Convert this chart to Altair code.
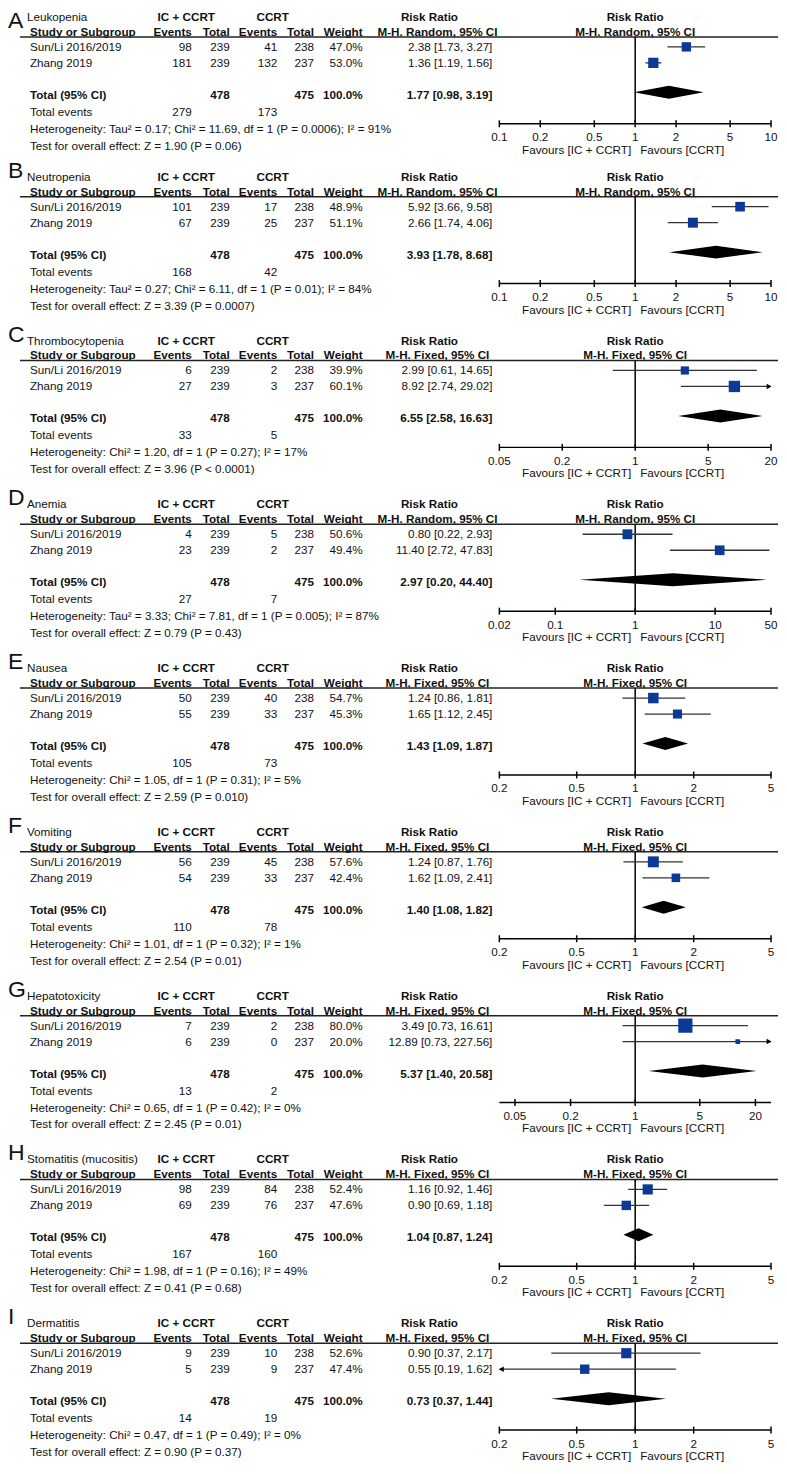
import altair as alt
import pandas as pd

# ---------------- data ----------------
LETTERS = ["A", "B", "C", "D", "E", "F", "G", "H", "I"]
OUTCOMES = ["Leukopenia", "Neutropenia", "Thrombocytopenia", "Anemia", "Nausea",
            "Vomiting", "Hepatotoxicity", "Stomatitis (mucositis)", "Dermatitis"]
METHOD = ["Random", "Random", "Fixed", "Random", "Fixed", "Fixed", "Fixed", "Fixed", "Fixed"]
STUDIES = ["Sun/Li 2016/2019", "Zhang 2019"]
IC_EVENTS = [[98, 181], [101, 67], [6, 27], [4, 23], [50, 55], [56, 54], [7, 6], [98, 69], [9, 5]]
IC_TOTAL = [239, 239]
CC_EVENTS = [[41, 132], [17, 25], [2, 3], [5, 2], [40, 33], [45, 33], [2, 0], [84, 76], [10, 9]]
CC_TOTAL = [238, 237]
WEIGHTS = [[47.0, 53.0], [48.9, 51.1], [39.9, 60.1], [50.6, 49.4], [54.7, 45.3],
           [57.6, 42.4], [80.0, 20.0], [52.4, 47.6], [52.6, 47.4]]
RR = [[2.38, 1.36], [5.92, 2.66], [2.99, 8.92], [0.80, 11.40], [1.24, 1.65],
      [1.24, 1.62], [3.49, 12.89], [1.16, 0.90], [0.90, 0.55]]
RR_LO = [[1.73, 1.19], [3.66, 1.74], [0.61, 2.74], [0.22, 2.72], [0.86, 1.12],
         [0.87, 1.09], [0.73, 0.73], [0.92, 0.69], [0.37, 0.19]]
RR_HI = [[3.27, 1.56], [9.58, 4.06], [14.65, 29.02], [2.93, 47.83], [1.81, 2.45],
         [1.76, 2.41], [16.61, 227.56], [1.46, 1.18], [2.17, 1.62]]
TOT_RR = [1.77, 3.93, 6.55, 2.97, 1.43, 1.40, 5.37, 1.04, 0.73]
TOT_LO = [0.98, 1.78, 2.58, 0.20, 1.09, 1.08, 1.40, 0.87, 0.37]
TOT_HI = [3.19, 8.68, 16.63, 44.40, 1.87, 1.82, 20.58, 1.24, 1.44]
TOT_N_IC = 478
TOT_N_CC = 475
TOT_EV_IC = [279, 168, 33, 27, 105, 110, 13, 167, 14]
TOT_EV_CC = [173, 42, 5, 7, 73, 78, 2, 160, 19]
HETEROGENEITY = [
    "Heterogeneity: Tau² = 0.17; Chi² = 11.69, df = 1 (P = 0.0006); I² = 91%",
    "Heterogeneity: Tau² = 0.27; Chi² = 6.11, df = 1 (P = 0.01); I² = 84%",
    "Heterogeneity: Chi² = 1.20, df = 1 (P = 0.27); I² = 17%",
    "Heterogeneity: Tau² = 3.33; Chi² = 7.81, df = 1 (P = 0.005); I² = 87%",
    "Heterogeneity: Chi² = 1.05, df = 1 (P = 0.31); I² = 5%",
    "Heterogeneity: Chi² = 1.01, df = 1 (P = 0.32); I² = 1%",
    "Heterogeneity: Chi² = 0.65, df = 1 (P = 0.42); I² = 0%",
    "Heterogeneity: Chi² = 1.98, df = 1 (P = 0.16); I² = 49%",
    "Heterogeneity: Chi² = 0.47, df = 1 (P = 0.49); I² = 0%",
]
OVERALL = [
    "Test for overall effect: Z = 1.90 (P = 0.06)",
    "Test for overall effect: Z = 3.39 (P = 0.0007)",
    "Test for overall effect: Z = 3.96 (P < 0.0001)",
    "Test for overall effect: Z = 0.79 (P = 0.43)",
    "Test for overall effect: Z = 2.59 (P = 0.010)",
    "Test for overall effect: Z = 2.54 (P = 0.01)",
    "Test for overall effect: Z = 2.45 (P = 0.01)",
    "Test for overall effect: Z = 0.41 (P = 0.68)",
    "Test for overall effect: Z = 0.90 (P = 0.37)",
]
TICKS = [
    [0.1, 0.2, 0.5, 1, 2, 5, 10],
    [0.1, 0.2, 0.5, 1, 2, 5, 10],
    [0.05, 0.2, 1, 5, 20],
    [0.02, 0.1, 1, 10, 50],
    [0.2, 0.5, 1, 2, 5],
    [0.2, 0.5, 1, 2, 5],
    [0.05, 0.2, 1, 5, 20],
    [0.2, 0.5, 1, 2, 5],
    [0.2, 0.5, 1, 2, 5],
]
TICK_LABELS = [
    ["0.1", "0.2", "0.5", "1", "2", "5", "10"],
    ["0.1", "0.2", "0.5", "1", "2", "5", "10"],
    ["0.05", "0.2", "1", "5", "20"],
    ["0.02", "0.1", "1", "10", "50"],
    ["0.2", "0.5", "1", "2", "5"],
    ["0.2", "0.5", "1", "2", "5"],
    ["0.05", "0.2", "1", "5", "20"],
    ["0.2", "0.5", "1", "2", "5"],
    ["0.2", "0.5", "1", "2", "5"],
]
AXIS_DOMAIN = [[0.1, 10], [0.1, 10], [0.05, 20], [0.02, 50], [0.2, 5],
               [0.2, 5], [0.0339, 29.5], [0.2, 5], [0.2, 5]]
FAVOURS_LEFT = "Favours [IC + CCRT]"
FAVOURS_RIGHT = "Favours [CCRT]"

# ---------------- layout / style ----------------
FONT = "Liberation Sans"
FS = 11.7
INK = "#111111"
BLUE = "#0b3a96"
W = 771
X = dict(title=19, study=22, e1=184, t1=222, e2=269.5, t2=306.5, w=355, rr=485,
         ic_head=178.5, cc_head=265, rr_head=422, mh_head=430, line0=12)
FOREST_RANGE = [492, 764]
# vertical offsets (px) relative to each panel's header rule
Y = dict(letter=-19, head1=-20, head2=-5, s1=10, s2=26, total=58, diamond=55.5,
         events=75, het=92, test=109, axis=87, tick0=83.5, tick1=90.5,
         ticklab=100.5, fav=113)
LETTER_SIZE = 23
DIAMOND_HALF = 6.5
L_FIRST = 28           # header rule of panel A
L_REST = 44            # header rule of panels B..I
PITCH = 163.5
HEIGHTS = [188 - L_REST] + [PITCH] * 7 + [L_REST + 118]


def panel(i):
    L = L_FIRST if i == 0 else L_REST
    H = HEIGHTS[i]
    ys = alt.Scale(domain=[-L, H - L], range=[0, H], zero=False, nice=False)
    xs = alt.Scale(type="log", domain=AXIS_DOMAIN[i], range=FOREST_RANGE, clamp=True, nice=False)
    ycol = lambda f: alt.Y(f, type="quantitative", scale=ys, axis=None)
    yd = lambda v: alt.Y(datum=v, type="quantitative", scale=ys, axis=None)
    layers = []

    def txt(rows, x, align="left", bold=False, size=FS, baseline="middle"):
        df = pd.DataFrame(rows, columns=["text", "yo"])
        return alt.Chart(df).mark_text(
            align=align, baseline=baseline, font=FONT, fontSize=size,
            fontWeight="bold" if bold else "normal", color=INK
        ).encode(x=alt.value(x), y=ycol("yo"), text="text:N")

    # letter + title
    letter_y = Y["letter"] if i > 0 else 19 - L
    layers.append(txt([[LETTERS[i], letter_y]], 0, size=LETTER_SIZE, baseline="alphabetic"))
    layers.append(txt([[OUTCOMES[i], Y["head1"]]], X["title"]))
    # group headers
    layers.append(txt([["IC + CCRT", Y["head1"]]], X["ic_head"], align="center", bold=True))
    layers.append(txt([["CCRT", Y["head1"]]], X["cc_head"], align="center", bold=True))
    layers.append(txt([["Risk Ratio", Y["head1"]]], X["rr_head"], align="center", bold=True))
    mh = f"M-H. {METHOD[i]}, 95% CI"
    layers.append(txt([[mh, Y["head2"]]], X["mh_head"], align="center", bold=True))
    # left column
    layers.append(txt([["Study or Subgroup", Y["head2"]], ["Total (95% CI)", Y["total"]]], X["study"], bold=True))
    layers.append(txt([[STUDIES[0], Y["s1"]], [STUDIES[1], Y["s2"]], ["Total events", Y["events"]],
                       [HETEROGENEITY[i], Y["het"]], [OVERALL[i], Y["test"]]], X["study"]))
    # numeric columns
    layers.append(txt([["Events", Y["head2"]]], X["e1"], align="right", bold=True))
    layers.append(txt([[str(IC_EVENTS[i][0]), Y["s1"]], [str(IC_EVENTS[i][1]), Y["s2"]],
                       [str(TOT_EV_IC[i]), Y["events"]]], X["e1"], align="right"))
    layers.append(txt([["Total", Y["head2"]], [str(TOT_N_IC), Y["total"]]], X["t1"], align="right", bold=True))
    layers.append(txt([[str(IC_TOTAL[0]), Y["s1"]], [str(IC_TOTAL[1]), Y["s2"]]], X["t1"], align="right"))
    layers.append(txt([["Events", Y["head2"]]], X["e2"], align="right", bold=True))
    layers.append(txt([[str(CC_EVENTS[i][0]), Y["s1"]], [str(CC_EVENTS[i][1]), Y["s2"]],
                       [str(TOT_EV_CC[i]), Y["events"]]], X["e2"], align="right"))
    layers.append(txt([["Total", Y["head2"]], [str(TOT_N_CC), Y["total"]]], X["t2"], align="right", bold=True))
    layers.append(txt([[str(CC_TOTAL[0]), Y["s1"]], [str(CC_TOTAL[1]), Y["s2"]]], X["t2"], align="right"))
    layers.append(txt([["Weight", Y["head2"]], ["100.0%", Y["total"]]], X["w"], align="right", bold=True))
    layers.append(txt([[f"{WEIGHTS[i][0]:.1f}%", Y["s1"]], [f"{WEIGHTS[i][1]:.1f}%", Y["s2"]]], X["w"], align="right"))
    layers.append(txt([[f"{RR[i][k]:.2f} [{RR_LO[i][k]:.2f}, {RR_HI[i][k]:.2f}]", Y["s1" if k == 0 else "s2"]]
                       for k in range(2)], X["rr"], align="right"))
    layers.append(txt([[f"{TOT_RR[i]:.2f} [{TOT_LO[i]:.2f}, {TOT_HI[i]:.2f}]", Y["total"]]], X["rr"],
                      align="right", bold=True))

    # header rule
    layers.append(alt.Chart(pd.DataFrame({"a": [0]})).mark_rule(color="#222", strokeWidth=1.5).encode(
        x=alt.value(X["line0"]), x2=alt.value(W), y=yd(0)))

    # ---- forest part ----
    one = pd.DataFrame({"v": [1.0]})
    for label, yo in [("Risk Ratio", Y["head1"]), (mh, Y["head2"])]:
        layers.append(alt.Chart(one).mark_text(font=FONT, fontSize=FS, fontWeight="bold", color=INK,
                                               align="center", baseline="middle").encode(
            x=alt.X("v:Q", scale=xs, axis=None), y=yd(yo), text=alt.value(label)))
    # line of no effect
    layers.append(alt.Chart(one).mark_rule(color="#000", strokeWidth=1.5).encode(
        x=alt.X("v:Q", scale=xs, axis=None), y=yd(0), y2=alt.Y2(datum=Y["axis"])))

    studies = pd.DataFrame({
        "est": RR[i], "lo": RR_LO[i], "hi": RR_HI[i], "w": WEIGHTS[i],
        "yo": [Y["s1"], Y["s2"]],
    })
    layers.append(alt.Chart(studies).mark_rule(color="#333", strokeWidth=1.3).encode(
        x=alt.X("lo:Q", scale=xs, axis=None), x2="hi:Q", y=ycol("yo")))
    layers.append(alt.Chart(studies).mark_square(color=BLUE, opacity=1, filled=True).encode(
        x=alt.X("est:Q", scale=xs, axis=None), y=ycol("yo"),
        size=alt.Size("w:Q", scale=alt.Scale(type="pow", exponent=1.6, domain=[0, 80], range=[0, 204]),
                      legend=None)))
    dmin, dmax = AXIS_DOMAIN[i]
    right = studies[studies["hi"] > dmax]
    if len(right):
        layers.append(alt.Chart(right).mark_point(shape="triangle-right", filled=True, color="#000",
                                                  size=30, opacity=1, xOffset=-2).encode(
            x=alt.X("hi:Q", scale=xs, axis=None), y=ycol("yo")))
    left = studies[studies["lo"] < dmin]
    if len(left):
        layers.append(alt.Chart(left).mark_point(shape="triangle-left", filled=True, color="#000",
                                                 size=30, opacity=1, xOffset=2).encode(
            x=alt.X("lo:Q", scale=xs, axis=None), y=ycol("yo")))

    # pooled diamond
    yc = Y["diamond"]
    dia = pd.DataFrame({
        "x": [TOT_LO[i], TOT_RR[i], TOT_HI[i]],
        "ya": [yc, yc - DIAMOND_HALF, yc],
        "yb": [yc, yc + DIAMOND_HALF, yc],
    })
    layers.append(alt.Chart(dia).mark_area(color="#000", opacity=1, interpolate="linear").encode(
        x=alt.X("x:Q", scale=xs, axis=None), y=ycol("ya"), y2="yb:Q"))

    # axis
    dom = pd.DataFrame({"a": [dmin], "b": [dmax]})
    layers.append(alt.Chart(dom).mark_rule(color="#000", strokeWidth=1.5).encode(
        x=alt.X("a:Q", scale=xs, axis=None), x2="b:Q", y=yd(Y["axis"])))
    ticks = pd.DataFrame({"t": TICKS[i], "lab": TICK_LABELS[i]})
    layers.append(alt.Chart(ticks).mark_rule(color="#000", strokeWidth=1.5).encode(
        x=alt.X("t:Q", scale=xs, axis=None), y=yd(Y["tick0"]), y2=alt.Y2(datum=Y["tick1"])))
    layers.append(alt.Chart(ticks).mark_text(font=FONT, fontSize=FS, color=INK, align="center",
                                             baseline="middle").encode(
        x=alt.X("t:Q", scale=xs, axis=None), y=yd(Y["ticklab"]), text="lab:N"))
    layers.append(alt.Chart(one).mark_text(font=FONT, fontSize=FS, color=INK, align="right",
                                           baseline="middle", dx=-4).encode(
        x=alt.X("v:Q", scale=xs, axis=None), y=yd(Y["fav"]), text=alt.value(FAVOURS_LEFT)))
    layers.append(alt.Chart(one).mark_text(font=FONT, fontSize=FS, color=INK, align="left",
                                           baseline="middle", dx=5).encode(
        x=alt.X("v:Q", scale=xs, axis=None), y=yd(Y["fav"]), text=alt.value(FAVOURS_RIGHT)))

    return alt.layer(*layers).properties(width=W, height=H)


chart = alt.vconcat(*[panel(i) for i in range(9)], spacing=0, bounds="flush").properties(
    padding=0, background="white"
).configure_view(stroke=None)

chart.save("out.html", embed_options={"renderer": "svg", "actions": False})
